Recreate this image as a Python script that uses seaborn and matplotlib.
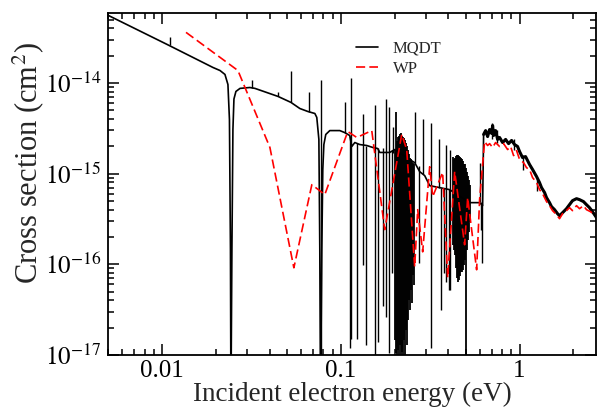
import matplotlib
matplotlib.use("Agg")
import matplotlib.pyplot as plt
from matplotlib.ticker import FixedLocator, FixedFormatter, LogLocator, NullFormatter
import numpy as np
import pandas as pd
import seaborn as sns

# ---------------- data ----------------
# MQDT cross section: smooth background with broad window resonances (eV, cm^2)
mqdt_energy = [0.00499, 0.01066, 0.01927, 0.0211, 0.02249, 0.02337, 0.02383, 0.02414,
               0.02429, 0.0246, 0.02492, 0.02525, 0.0259, 0.0273, 0.0310, 0.0331,
               0.0445, 0.0526, 0.0590, 0.0654, 0.0716, 0.0734, 0.0754, 0.0763,
               0.0770, 0.0783, 0.0793, 0.0804, 0.0824, 0.0868, 0.0987, 0.1053,
               0.1122, 0.1152, 0.1198, 0.1277, 0.1397, 0.1510, 0.1609, 0.1652,
               0.1878, 0.2003, 0.2429, 0.259, 0.2763, 0.2946, 0.3142, 0.3573,
               0.4063, 0.5256, 0.5976, 0.6213]
mqdt_sigma = [5.57e-14, 2.66e-14, 1.48e-14, 1.37e-14, 1.24e-14, 9.6e-15, 3.95e-15, 1.45e-16,
              3e-18, 1.45e-16, 3.06e-15, 6.65e-15, 8.05e-15, 8.7e-15, 8.9e-15, 8.7e-15,
              7.1e-15, 6.1e-15, 5.22e-15, 4.84e-15, 4.6e-15, 4.16e-15, 2.38e-15, 1.45e-16,
              3e-18, 1.45e-16, 1.11e-15, 2.09e-15, 2.7e-15, 2.98e-15, 2.98e-15, 2.83e-15,
              2.63e-15, 1.99e-15, 2.2e-15, 2.09e-15, 2.04e-15, 1.94e-15, 1.89e-15, 1.71e-15,
              1.71e-15, 1.84e-15, 1.43e-15, 1.32e-15, 1.05e-15, 9.5e-16, 7.36e-16, 7.0e-16,
              6.65e-16, 4.78e-16, 4.78e-16, 4.43e-16]

# MQDT above the vibrational threshold (dense, unresolved structure)
mqdt_hi_energy = [0.6292, 0.6457, 0.6625, 0.6797, 0.6977, 0.7067, 0.7157, 0.7342,
                  0.7535, 0.7730, 0.8035, 0.8353, 0.8680, 0.9022, 0.9376, 0.9745,
                  1.0, 1.039, 1.080, 1.137, 1.182, 1.245, 1.293, 1.327, 1.380,
                  1.415, 1.471, 1.509, 1.569, 1.631, 1.673, 1.739, 1.830, 1.902,
                  1.978, 2.082, 2.164, 2.278, 2.367, 2.461, 2.558, 2.693]
mqdt_hi_sigma = [2.70e-15, 2.98e-15, 2.56e-15, 3.06e-15, 2.77e-15, 3.39e-15, 2.63e-15, 2.98e-15,
                 2.38e-15, 2.50e-15, 2.20e-15, 2.38e-15, 2.14e-15, 2.32e-15, 2.09e-15, 1.99e-15,
                 1.75e-15, 1.50e-15, 1.54e-15, 1.26e-15, 1.11e-15, 9.26e-16, 7.96e-16, 7.0e-16,
                 6.17e-16, 5.43e-16, 4.78e-16, 4.32e-16, 4.0e-16, 3.61e-16, 3.43e-16, 3.70e-16,
                 4.10e-16, 4.54e-16, 5.03e-16, 5.29e-16, 5.16e-16, 4.91e-16, 4.54e-16, 4.21e-16,
                 3.80e-16, 3.27e-16]

# narrow Rydberg resonances: position, maximum and minimum of each profile
res_energy = [0.01108, 0.0318, 0.0445, 0.0526, 0.0663, 0.0776, 0.1053, 0.1122,
              0.1137, 0.1229, 0.1327, 0.1379, 0.1548, 0.1609, 0.1716, 0.1784,
              0.1854, 0.1927, 0.1952, 0.259, 0.2729, 0.2871, 0.3184, 0.3527,
              0.3620, 0.3761, 0.3859, 0.4010, 0.4063, 0.5976, 0.6053, 0.6132,
              0.7000, 0.7440, 0.9300, 1.050, 1.250]
res_top = [3.18e-14, 1.09e-14, 8.0e-15, 1.34e-14, 8.0e-15, 1.09e-14, 6.1e-15, 2.6e-15,
           1.12e-14, 2.2e-15, 4.49e-15, 2.04e-15, 5.64e-15, 1.9e-15, 1.9e-15, 6.65e-15,
           5.36e-15, 1.8e-15, 3.3e-15, 4.72e-15, 1.2e-15, 3.95e-15, 3.57e-15, 2.38e-15,
           7.0e-16, 7.0e-16, 2.09e-15, 6.8e-16, 1.84e-15, 1.32e-15, 4.8e-16, 4.6e-16,
           3.6e-15, 3.0e-15, 2.4e-15, 1.6e-15, 9.0e-16]
res_bottom = [2.59e-14, 8.9e-15, 7.1e-15, 6.1e-15, 4.8e-15, 5e-18, 2.83e-15, 1.2e-17,
              1.5e-17, 1.5e-17, 9.9e-17, 1.3e-17, 5e-18, 1.4e-17, 3.5e-17, 2.6e-17,
              1.05e-17, 8.05e-17, 1.7e-15, 1.32e-15, 1.04e-16, 1.0e-15, 1.2e-17, 7.0e-16,
              3.14e-17, 8.05e-17, 6.4e-17, 5.23e-17, 5.2e-17, 4.8e-16, 2.41e-16, 1.04e-16,
              2.4e-15, 2.2e-15, 1.8e-15, 1.1e-15, 6.5e-16]

# overlapping resonance clusters near 0.2-0.25 eV and 0.42-0.53 eV
band1_energy = [0.2003, 0.2029, 0.2056, 0.2082, 0.2109, 0.2136, 0.2164, 0.2192, 0.2220, 0.2249,
                0.2278, 0.2307, 0.2337, 0.2367, 0.2398, 0.2429, 0.2460, 0.2492, 0.2525, 0.2557]
band1_top = [1.84e-15, 4.72e-15, 2.26e-15, 2.50e-15, 2.63e-15, 2.70e-15, 2.77e-15, 2.63e-15,
             2.56e-15, 2.44e-15, 2.32e-15, 2.20e-15, 2.04e-15, 1.84e-15, 1.66e-15, 1.50e-15,
             1.43e-15, 1.36e-15, 1.32e-15, 1.29e-15]
band1_bottom = [1.47e-17, 1.05e-17, 5e-18, 1.14e-17, 5e-18, 1.29e-17, 5e-18, 1.08e-17,
                5e-18, 1.47e-17, 5e-18, 1.89e-17, 1.29e-17, 2.44e-17, 4.05e-17, 3.14e-17,
                5.23e-17, 3.75e-17, 7.66e-17, 5.94e-17]

band2_energy = [0.4223, 0.4278, 0.4333, 0.4390, 0.4446, 0.4504, 0.4563, 0.4621, 0.4682,
                0.4742, 0.4804, 0.4866, 0.4928, 0.4992, 0.5057, 0.5123, 0.5189, 0.5256]
band2_top = [1.54e-15, 1.43e-15, 1.50e-15, 1.58e-15, 1.62e-15, 1.62e-15, 1.58e-15, 1.54e-15,
             1.50e-15, 1.43e-15, 1.36e-15, 1.29e-15, 1.26e-15, 1.16e-15, 1.05e-15, 9.5e-16,
             8.59e-16, 7.55e-16]
band2_bottom = [1.64e-16, 1.45e-16, 1.27e-16, 9.14e-17, 7.10e-17, 6.41e-17, 6.75e-17, 7.46e-17,
                8.26e-17, 8.26e-17, 8.69e-17, 9.87e-17, 1.12e-16, 5e-18, 1.45e-16, 1.87e-16,
                2.29e-16, 2.95e-16]

# WP (wave-packet) cross section
wp_energy = [0.01362, 0.02658, 0.04013, 0.05463, 0.06887, 0.08137, 0.1094, 0.1229, 0.1490,
             0.1761, 0.2192, 0.2337, 0.2590, 0.2692, 0.2871, 0.3142, 0.3266, 0.3713, 0.3961,
             0.4334, 0.4928, 0.5123, 0.5752, 0.5976, 0.6374, 0.6625, 0.6797, 0.7067, 0.7342,
             0.7730, 0.8139, 0.8570, 0.8906, 0.9257, 0.9621, 1.0, 1.053, 1.094, 1.137, 1.182,
             1.245, 1.293, 1.344, 1.415, 1.471, 1.529, 1.609, 1.673, 1.739, 1.807, 1.902,
             1.978, 2.082, 2.164, 2.278, 2.367, 2.493, 2.624, 2.693]
wp_sigma = [3.61e-14, 1.37e-14, 1.94e-15, 9.14e-17, 7.55e-16, 5.86e-16, 2.91e-15, 2.50e-15, 2.98e-15,
            2.41e-16, 2.70e-15, 1.84e-15, 9.37e-17, 4.00e-16, 1.37e-16, 1.19e-15, 5.57e-16, 1.03e-15,
            7.10e-17, 1.05e-15, 1.64e-16, 5.43e-16, 8.69e-17, 5.16e-16, 2.26e-15, 2.04e-15, 2.14e-15,
            1.94e-15, 2.20e-15, 1.99e-15, 2.14e-15, 1.84e-15, 1.99e-15, 1.58e-15, 1.79e-15, 1.43e-15,
            1.32e-15, 1.16e-15, 1.11e-15, 9.03e-16, 7.96e-16, 6.65e-16, 6.01e-16, 4.91e-16, 4.43e-16,
            3.90e-16, 3.52e-16, 3.18e-16, 3.61e-16, 3.80e-16, 4.21e-16, 3.90e-16, 4.43e-16, 4.10e-16,
            4.43e-16, 4.00e-16, 3.80e-16, 3.52e-16, 3.61e-16]

xtick_values = [0.01, 0.1, 1]
xtick_labels = ["0.01", "0.1", "1"]
ytick_values = [1e-17, 1e-16, 1e-15, 1e-14]
ytick_labels = [r"$10^{-17}$", r"$10^{-16}$", r"$10^{-15}$", r"$10^{-14}$"]

# ---------------- style ----------------
sns.set_style("ticks")
plt.rcParams["font.family"] = ["Liberation Serif", "DejaVu Serif"]
plt.rcParams["mathtext.fontset"] = "stix"

fig = plt.figure(figsize=(5.97, 4.07), dpi=100)
ax = fig.add_axes([0.181, 0.128, 0.818, 0.840])
ax.set_xscale("log")
ax.set_yscale("log")

mqdt_df = pd.DataFrame({"energy": mqdt_energy + mqdt_hi_energy,
                        "sigma": mqdt_sigma + mqdt_hi_sigma})
hi_df = pd.DataFrame({"energy": mqdt_hi_energy, "sigma": mqdt_hi_sigma})
wp_df = pd.DataFrame({"energy": wp_energy, "sigma": wp_sigma})

sns.lineplot(data=mqdt_df, x="energy", y="sigma", sort=False, estimator=None,
             color="black", lw=1.2, label="MQDT", ax=ax)
sns.lineplot(data=hi_df, x="energy", y="sigma", sort=False, estimator=None,
             color="black", lw=2.2, ax=ax)
ax.vlines(res_energy, res_bottom, res_top, color="black", lw=1.0)
ax.vlines(band1_energy, band1_bottom, band1_top, color="black", lw=1.3)
ax.vlines(band2_energy, band2_bottom, band2_top, color="black", lw=1.3)
sns.lineplot(data=wp_df, x="energy", y="sigma", sort=False, estimator=None,
             color="#ff0000", lw=1.2, label="WP", ax=ax)
for line in ax.get_lines():
    if line.get_label() == "WP":
        line.set_linestyle((0, (5.5, 2.5)))

ax.set_xlim(0.00499, 2.69)
ax.set_ylim(1e-17, 5.9e-14)

ax.xaxis.set_major_locator(FixedLocator(xtick_values))
ax.xaxis.set_major_formatter(FixedFormatter(xtick_labels))
ax.yaxis.set_major_locator(FixedLocator(ytick_values))
ax.yaxis.set_major_formatter(FixedFormatter(ytick_labels))
ax.xaxis.set_minor_locator(LogLocator(base=10, subs=np.arange(2, 10), numticks=20))
ax.yaxis.set_minor_locator(LogLocator(base=10, subs=np.arange(2, 10), numticks=20))
ax.xaxis.set_minor_formatter(NullFormatter())
ax.yaxis.set_minor_formatter(NullFormatter())

ax.tick_params(which="both", direction="in", top=True, right=True, width=1.1, colors="black")
ax.tick_params(which="major", length=8, labelsize=18)
ax.tick_params(axis="x", which="major", pad=4)
ax.tick_params(axis="y", which="major", pad=5)
ax.tick_params(which="minor", length=4)
for s in ax.spines.values():
    s.set_linewidth(1.3)
    s.set_color("black")

ax.set_xlabel("Incident electron energy (eV)", fontsize=19.5, labelpad=-0.5)
ax.set_ylabel(r"Cross section (cm$^{2}$)", fontsize=22)
ax.yaxis.set_label_coords(-0.128, 0.56)

leg = ax.legend(loc="upper left", bbox_to_anchor=(0.508, 0.92), frameon=False,
                fontsize=12, handlelength=1.3, handletextpad=0.9, labelspacing=0.25,
                borderaxespad=0, borderpad=0)

fig.savefig("out.png", dpi=100)
